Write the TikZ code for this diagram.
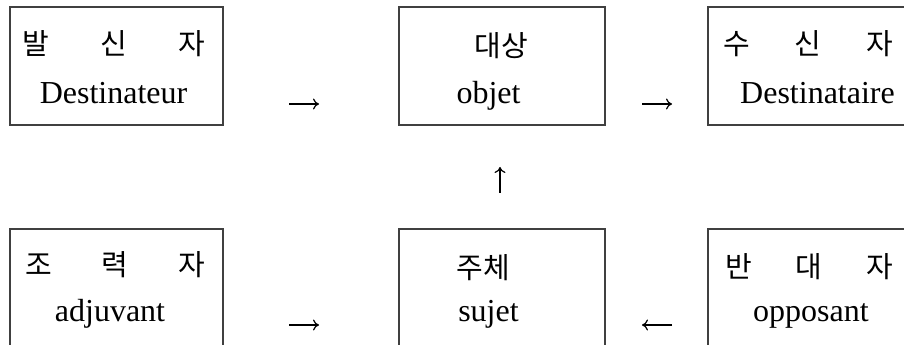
\documentclass[tikz,border=0pt]{standalone}
\usepackage{fontspec}
\setmainfont{Liberation Serif}
\newfontfamily\kor{Noto Sans CJK KR}
\usetikzlibrary{arrows.meta}

\tikzset{
	actant/.style={draw=black!75, line width=1.1pt, minimum width=213pt, minimum height=118pt, inner sep=0pt},
	kname/.style={font=\kor\fontsize{29}{33}\selectfont, inner sep=0pt},
	fname/.style={font=\fontsize{32}{38}\selectfont, inner sep=0pt, anchor=base},
	rel/.style={-{To[length=6pt,width=11pt]}, line width=1.2pt}
}

\begin{document}
\begin{tikzpicture}[x=1pt,y=1pt]
	\clip (0,0) rectangle (904,345);
	
	% boxes, top row
	\node[actant] (dest) at (116.5,279) {};
	\node[actant, minimum width=206pt] (obj) at (502,279) {};
	\node[actant] (destr) at (814.5,279) {};
	
	% boxes, bottom row
	\node[actant] (adj) at (116.5,57) {};
	\node[actant, minimum width=206pt] (suj) at (502,57) {};
	\node[actant] (opp) at (814.5,57) {};
	
	% names
	\node[kname] (dest-k) at (113.5,301.5) {\makebox[183pt]{발\hfill 신\hfill 자}};
	\node[fname] (dest-f) at (113.5,241) {Destinateur};
	
	\node[kname] (obj-k) at (501,299) {대상};
	\node[fname] (obj-f) at (488.5,241) {objet};
	
	\node[kname] (destr-k) at (808,301.5) {\makebox[170pt]{수\hfill 신\hfill 자}};
	\node[fname] (destr-f) at (817.5,241) {Destinataire};
	
	\node[kname] (adj-k) at (115,80) {\makebox[180pt]{조\hfill 력\hfill 자}};
	\node[fname] (adj-f) at (110,23) {adjuvant};
	
	\node[kname] (suj-k) at (483,77) {주체};
	\node[fname] (suj-f) at (488.5,23) {sujet};
	
	\node[kname] (opp-k) at (809,78.5) {\makebox[168pt]{반\hfill 대\hfill 자}};
	\node[fname] (opp-f) at (811,23) {opposant};
	
	% arrows between the boxes
	\coordinate (r1a) at (289,241);
	\coordinate (r1b) at (319,241);
	\coordinate (r2a) at (642,241);
	\coordinate (r2b) at (672,241);
	\coordinate (r3a) at (500,152);
	\coordinate (r3b) at (500,178);
	\coordinate (r4a) at (289,20);
	\coordinate (r4b) at (319,20);
	\coordinate (r5a) at (672,20);
	\coordinate (r5b) at (642,20);
	
	\draw[rel] (r1a) -- (r1b);
	\draw[rel] (r2a) -- (r2b);
	\draw[rel] (r3a) -- (r3b);
	\draw[rel] (r4a) -- (r4b);
	\draw[rel] (r5a) -- (r5b);
\end{tikzpicture}
\end{document}
